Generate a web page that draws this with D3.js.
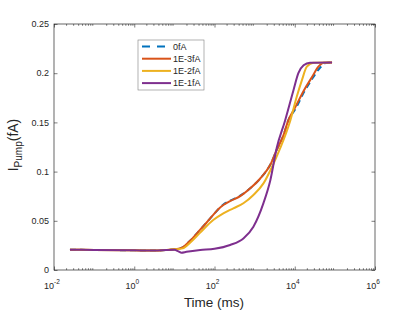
<!DOCTYPE html>
<html>
<head>
<meta charset="utf-8">
<script src="https://cdn.jsdelivr.net/npm/d3@7"></script>
<style>
  html, body { margin: 0; padding: 0; background: #fff; }
  svg text { font-family: "Liberation Sans", Arial, Helvetica, sans-serif; fill: #262626; }
</style>
</head>
<body>
<div id="chart"></div>
<script>
// Pump current vs time, one curve per leak level

const seriesNames = ['0fA', '1E-3fA', '1E-2fA', '1E-1fA'];
const seriesColors = ['#0072BD', '#D95319', '#EDB120', '#7E2F8E'];

// time in ms, current in fA
const time0 = [0.025, 0.1, 1, 3.2, 6.3, 10, 16, 25, 44, 63, 93, 126, 166, 245, 437, 776, 1380, 2455, 3550, 5250, 6900, 10200, 16600, 26900, 41700, 60300, 85000];
const pump0 = [0.0205, 0.0204, 0.0200, 0.0197, 0.0203, 0.0210, 0.0230, 0.0300, 0.0410, 0.0480, 0.0560, 0.0620, 0.0665, 0.0705, 0.0755, 0.0830, 0.0930, 0.1070, 0.1220, 0.1370, 0.1520, 0.1630, 0.1800, 0.1940, 0.2050, 0.2105, 0.2110];

const time1 = [0.025, 0.1, 1, 3.2, 6.3, 10, 16, 25, 44, 63, 93, 126, 166, 245, 437, 776, 1380, 2455, 3550, 5250, 6900, 10200, 16600, 26900, 38900, 52500, 85000];
const pump1 = [0.0205, 0.0204, 0.0200, 0.0197, 0.0203, 0.0210, 0.0230, 0.0300, 0.0410, 0.0480, 0.0560, 0.0620, 0.0660, 0.0700, 0.0750, 0.0830, 0.0930, 0.1070, 0.1220, 0.1370, 0.1520, 0.1650, 0.1820, 0.1960, 0.2066, 0.2107, 0.2110];

const time2 = [0.025, 0.1, 1, 3.2, 6.3, 10, 16, 25, 44, 93, 166, 295, 525, 933, 1660, 2950, 4365, 7760, 11200, 15100, 20000, 29500, 85000];
const pump2 = [0.0205, 0.0204, 0.0200, 0.0197, 0.0203, 0.0210, 0.0220, 0.0280, 0.0380, 0.0508, 0.0576, 0.0627, 0.0678, 0.0762, 0.0880, 0.1080, 0.1240, 0.1520, 0.1760, 0.1930, 0.2066, 0.2107, 0.2110];

const time3 = [0.025, 0.1, 1, 3.2, 6.3, 10, 12.6, 15, 20, 44, 100, 245, 525, 933, 1660, 2455, 3550, 5750, 9330, 12300, 16600, 24000, 85000];
const pump3 = [0.0205, 0.0204, 0.0200, 0.0197, 0.0203, 0.0205, 0.0190, 0.0176, 0.0185, 0.0203, 0.0215, 0.0254, 0.0320, 0.0440, 0.0680, 0.0910, 0.1240, 0.1520, 0.1830, 0.2000, 0.2080, 0.2107, 0.2110];

const xTickValues = [1e-2, 1e0, 1e2, 1e4, 1e6];
const yTickValues = [0, 0.05, 0.1, 0.15, 0.2, 0.25];

const series = [
  { name: seriesNames[0], color: seriesColors[0], dash: '6,4', t: time0, v: pump0 },
  { name: seriesNames[1], color: seriesColors[1], dash: null, t: time1, v: pump1 },
  { name: seriesNames[2], color: seriesColors[2], dash: null, t: time2, v: pump2 },
  { name: seriesNames[3], color: seriesColors[3], dash: null, t: time3, v: pump3 }
];

const width = 415, height = 312;
const margin = { top: 24, right: 40, bottom: 42, left: 54 };
const w = width - margin.left - margin.right;
const h = height - margin.top - margin.bottom;

const svg = d3.select('#chart').append('svg')
  .attr('width', width)
  .attr('height', height);

const g = svg.append('g')
  .attr('transform', `translate(${margin.left},${margin.top})`);

const x = d3.scaleLog().domain([1e-2, 1e6]).range([0, w]);
const y = d3.scaleLinear().domain([0, 0.25]).range([h, 0]);

const axisColor = '#262626';

// minor ticks for the log axis
const minorTicks = [];
for (let e = -2; e < 6; e++) {
  for (let k = 2; k <= 9; k++) minorTicks.push(k * Math.pow(10, e));
}

function styleAxis(sel) {
  sel.select('.domain').remove();
  sel.selectAll('line').attr('stroke', axisColor).attr('stroke-width', 0.6);
}

// bottom + top x axes (ticks inward)
g.append('g').attr('transform', `translate(0,${h})`)
  .call(d3.axisBottom(x).tickValues(xTickValues).tickSize(-3.5).tickFormat(''))
  .call(styleAxis);
g.append('g').attr('transform', `translate(0,${h})`)
  .call(d3.axisBottom(x).tickValues(minorTicks).tickSize(-1.8).tickFormat(''))
  .call(styleAxis);
g.append('g')
  .call(d3.axisTop(x).tickValues(xTickValues).tickSize(-3.5).tickFormat(''))
  .call(styleAxis);
g.append('g')
  .call(d3.axisTop(x).tickValues(minorTicks).tickSize(-1.8).tickFormat(''))
  .call(styleAxis);

// left + right y axes
g.append('g')
  .call(d3.axisLeft(y).tickValues(yTickValues).tickSize(-3.5).tickFormat(''))
  .call(styleAxis);
g.append('g').attr('transform', `translate(${w},0)`)
  .call(d3.axisRight(y).tickValues(yTickValues).tickSize(-3.5).tickFormat(''))
  .call(styleAxis);

// box
g.append('rect')
  .attr('x', 0).attr('y', 0).attr('width', w).attr('height', h)
  .attr('fill', 'none').attr('stroke', axisColor).attr('stroke-width', 0.7);

// x tick labels 10^n
xTickValues.forEach(v => {
  const t = g.append('text')
    .attr('x', x(v) - 2)
    .attr('y', h + 18.5)
    .attr('text-anchor', 'middle')
    .style('font-size', '9px');
  t.append('tspan').text('10');
  t.append('tspan')
    .attr('dy', -4.5)
    .style('font-size', '6.5px')
    .text(String(Math.round(Math.log10(v))));
});

// y tick labels
yTickValues.forEach(v => {
  g.append('text')
    .attr('x', -5)
    .attr('y', y(v) + 3.2)
    .attr('text-anchor', 'end')
    .style('font-size', '9px')
    .text(d3.format('')(+v.toFixed(2)));
});

// axis labels
g.append('text')
  .attr('x', w / 2 - 0.5)
  .attr('y', h + 37)
  .attr('text-anchor', 'middle')
  .style('font-size', '13.5px')
  .text('Time (ms)');

const yl = g.append('text')
  .attr('transform', 'rotate(-90)')
  .attr('x', -h / 2 + 2)
  .attr('y', -36)
  .attr('text-anchor', 'middle')
  .style('font-size', '14px');
yl.append('tspan').text('I');
yl.append('tspan').attr('dy', 3.5).style('font-size', '10px').text('Pump');
yl.append('tspan').attr('dy', -3.5).text('(fA)');

// lines
const line = d3.line()
  .x(d => x(d[0]))
  .y(d => y(d[1]))
  .curve(d3.curveMonotoneX);

// plotted in legend order, later series on top
series.forEach(s => {
  g.append('path')
    .datum(s.t.map((t, j) => [t, s.v[j]]))
    .attr('fill', 'none')
    .attr('stroke', s.color)
    .attr('stroke-width', 2)
    .attr('stroke-dasharray', s.dash)
    .attr('d', line);
});

// legend
const lg = svg.append('g').attr('transform', 'translate(138,40)');
lg.append('rect')
  .attr('width', 66).attr('height', 50)
  .attr('fill', '#fff').attr('stroke', '#7f7f7f').attr('stroke-width', 0.6);
series.forEach((s, i) => {
  const yy = 6.5 + i * 12.2;
  lg.append('line')
    .attr('x1', 4).attr('x2', 33)
    .attr('y1', yy).attr('y2', yy)
    .attr('stroke', s.color)
    .attr('stroke-width', 2)
    .attr('stroke-dasharray', s.dash ? '8,7' : null);
  lg.append('text')
    .attr('x', 35)
    .attr('y', yy + 3.1)
    .style('font-size', '9px')
    .text(s.name);
});
</script>
</body>
</html>
